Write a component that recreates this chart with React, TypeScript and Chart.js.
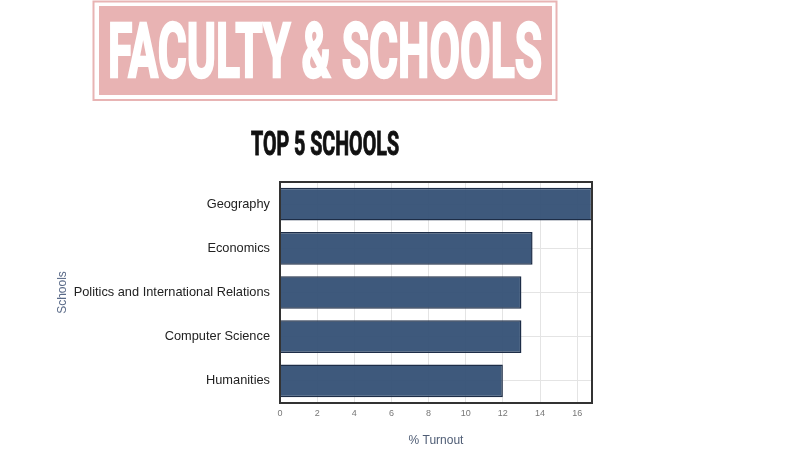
import React, { useEffect, useRef } from "react";
import { Chart, registerables } from "chart.js";

Chart.register(...registerables);

const schools = [
  "Geography",
  "Economics",
  "Politics and International Relations",
  "Computer Science",
  "Humanities",
];
const turnout = [16.8, 13.6, 13.0, 13.0, 12.0];
const headerTitle = "FACULTY & SCHOOLS";
const chartTitle = "TOP 5 SCHOOLS";
const xAxisTitle = "% Turnout";
const yAxisTitle = "Schools";

const plotBorder = {
  id: "plotBorder",
  afterDraw(chart: any) {
    const { ctx, chartArea } = chart;
    ctx.save();
    ctx.strokeStyle = "#333333";
    ctx.lineWidth = 2;
    ctx.strokeRect(
      chartArea.left,
      chartArea.top,
      chartArea.right - chartArea.left,
      chartArea.bottom - chartArea.top
    );
    ctx.restore();
  },
};

export default function App() {
  const ref = useRef<HTMLCanvasElement | null>(null);

  useEffect(() => {
    if (!ref.current) return;
    const chart = new Chart(ref.current, {
      type: "bar",
      data: {
        labels: schools,
        datasets: [
          {
            data: turnout,
            backgroundColor: "rgba(52,80,117,0.95)",
            borderColor: "#1d2d47",
            borderWidth: 1.5,
            categoryPercentage: 1,
            barPercentage: 0.74,
          },
        ],
      },
      options: {
        indexAxis: "y",
        responsive: false,
        animation: false,
        layout: { padding: { left: 50, right: 211, top: 182, bottom: 0 } },
        plugins: {
          legend: { display: false },
          tooltip: { enabled: false },
          title: { display: false },
        },
        scales: {
          x: {
            min: 0,
            max: 16.8,
            afterFit(scale: any) {
              scale.height = 47;
            },
            ticks: {
              stepSize: 2,
              includeBounds: false,
              padding: 5,
              color: "#777777",
              font: { family: "Liberation Sans", size: 9 },
            },
            grid: { color: "#e4e4e4", drawTicks: false },
            border: { display: false },
            title: {
              display: true,
              text: xAxisTitle,
              color: "#4f5d75",
              font: { family: "Liberation Sans", size: 12 },
              padding: { top: 0, bottom: 2 },
            },
          },
          y: {
            afterFit(scale: any) {
              scale.width = 230;
            },
            ticks: {
              padding: 10,
              color: "#222222",
              font: { family: "Liberation Sans", size: 12.8 },
            },
            grid: { color: "#e4e4e4", drawTicks: false, offset: false },
            border: { display: false },
            title: {
              display: true,
              text: yAxisTitle,
              color: "#5a6a88",
              font: { family: "Liberation Sans", size: 12 },
              padding: { top: 5, bottom: 0 },
            },
          },
        },
      },
      plugins: [plotBorder],
    } as any);
    return () => chart.destroy();
  }, []);

  return (
    <div
      style={{
        position: "absolute",
        left: 0,
        top: 0,
        width: 803,
        height: 450,
        background: "#ffffff",
      }}
    >
      <canvas
        ref={ref}
        width={803}
        height={450}
        style={{ position: "absolute", left: 0, top: 0 }}
      />
      <svg
        width={803}
        height={450}
        style={{ position: "absolute", left: 0, top: 0, pointerEvents: "none" }}
      >
        <rect
          x={93.5}
          y={1.5}
          width={463}
          height={98.5}
          fill="none"
          stroke="#e8b4b4"
          strokeWidth={2}
        />
        <rect x={99} y={6} width={453} height={89} fill="#e8b3b3" />
        <text
          x={108}
          y={77}
          fontFamily="Roboto, 'Liberation Sans', sans-serif"
          fontWeight={700}
          fontSize={76}
          fill="#ffffff"
          stroke="#ffffff"
          strokeWidth={2.5}
          textLength={434}
          lengthAdjust="spacingAndGlyphs"
        >
          {headerTitle}
        </text>
        <text
          x={251}
          y={155}
          fontFamily="Roboto, 'Liberation Sans', sans-serif"
          fontWeight={700}
          fontSize={34}
          fill="#111111"
          stroke="#111111"
          strokeWidth={1}
          textLength={148}
          lengthAdjust="spacingAndGlyphs"
        >
          {chartTitle}
        </text>
      </svg>
    </div>
  );
}
